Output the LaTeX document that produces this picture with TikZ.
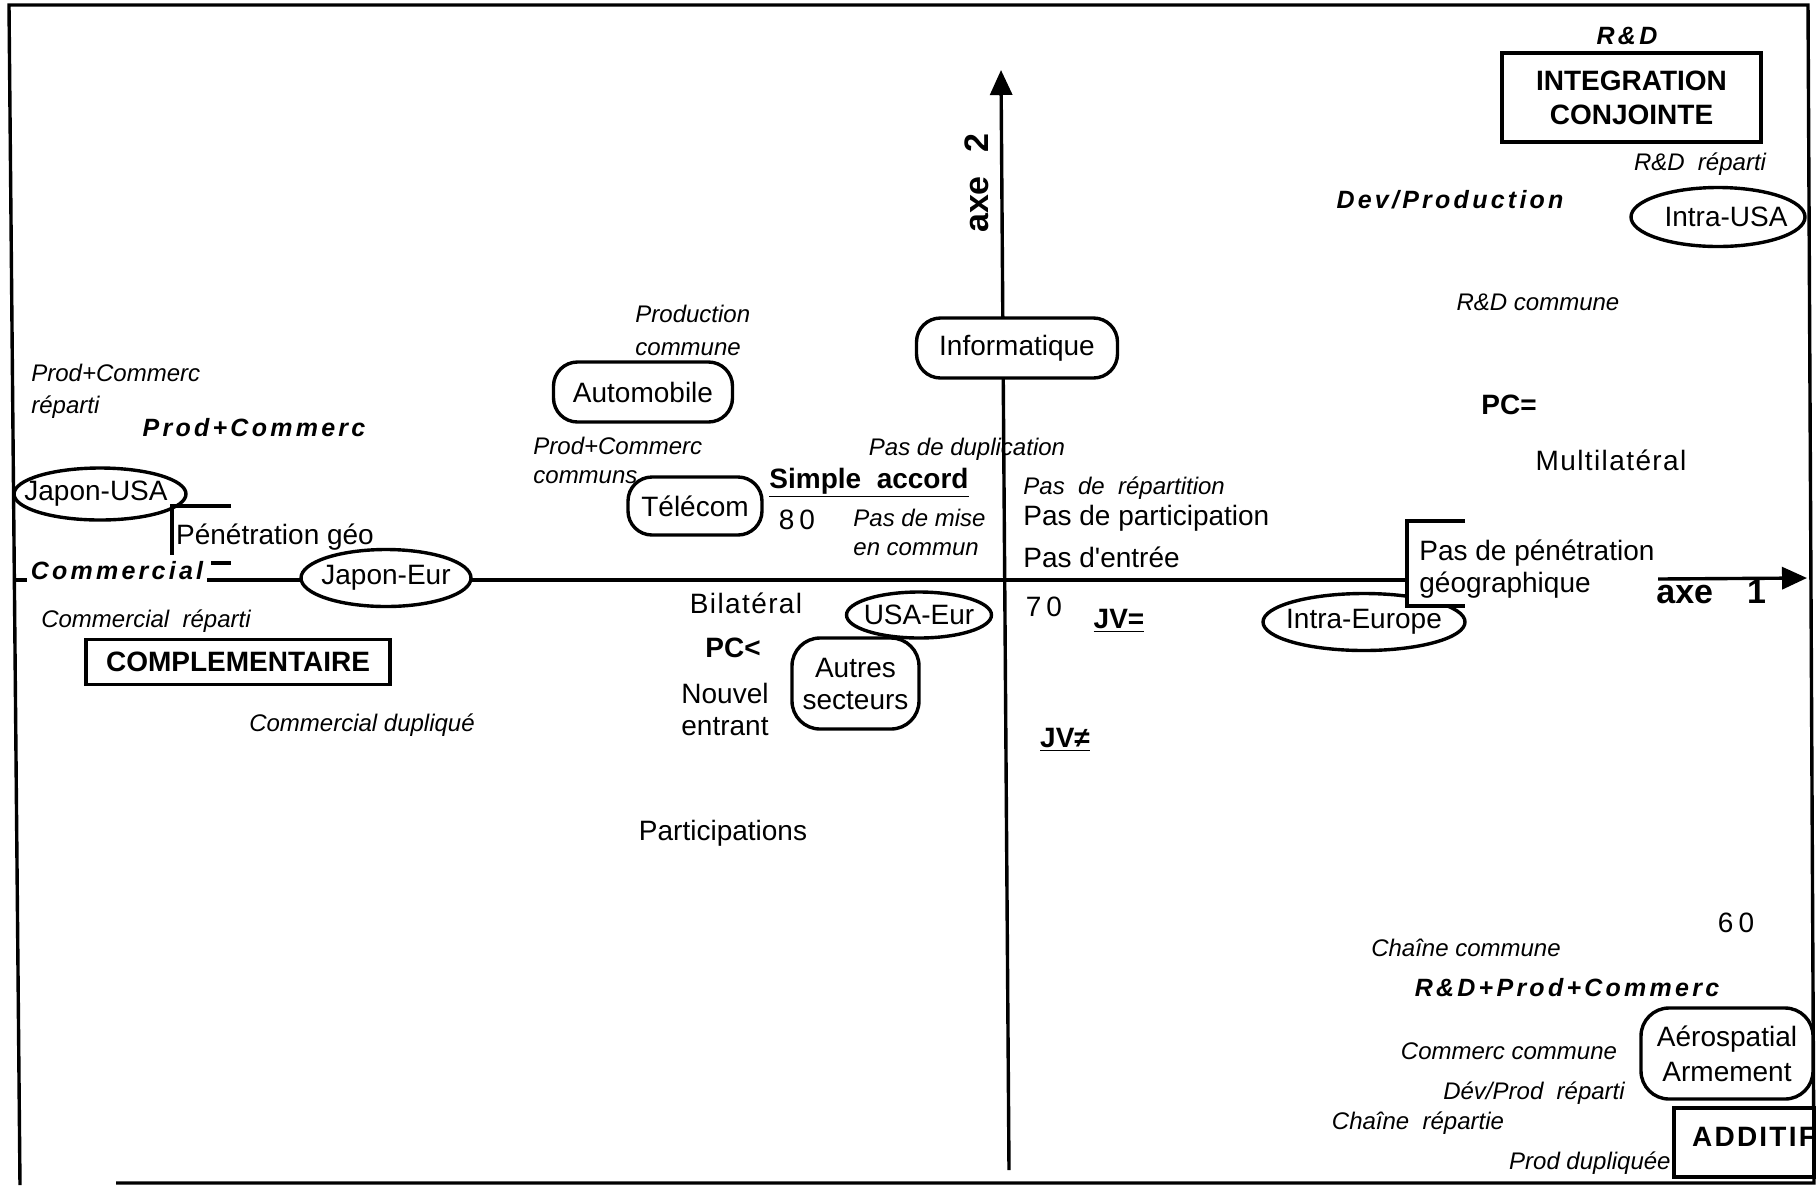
\documentclass[tikz,border=0pt]{standalone}
\usepackage{fontspec}
\setmainfont{Liberation Sans}
\newfontfamily\bisp[LetterSpace=13]{Liberation Sans}
\newfontfamily\spfont[LetterSpace=5]{Liberation Sans}
\newfontfamily\adsp[LetterSpace=8]{Liberation Sans}
\usetikzlibrary{shapes.geometric,arrows.meta}
\tikzset{
  ln/.style={line width=1.7pt},
  reg/.style={inner sep=1pt, font=\fontsize{14}{16}\selectfont},
  itl/.style={inner sep=1pt, font=\fontsize{12}{15}\selectfont\itshape},
  bdt/.style={inner sep=1pt, font=\fontsize{14}{16}\selectfont\bfseries},
  bit/.style={inner sep=1pt, font=\fontsize{12.5}{15}\selectfont\bisp\bfseries\itshape},
  rbox/.style={draw, line width=1.7pt, rounded corners=12pt, fill=white, inner sep=0pt, align=center, font=\fontsize{14}{16}\selectfont},
  ell/.style={draw, ellipse, line width=1.7pt, fill=white, inner sep=0pt, font=\fontsize{14}{16}\selectfont},
  sqbox/.style={draw, line width=1.7pt, fill=white, inner sep=0pt, align=center, font=\fontsize{14}{17}\selectfont\bfseries},
  axl/.style={inner sep=0pt, font=\fontsize{17}{17}\selectfont\bfseries},
  axarrow/.style={-{Triangle[length=12.5pt,width=11pt]}}
}
\begin{document}
\begin{tikzpicture}[x=0.5pt,y=-0.5pt]
\useasboundingbox (0,0) rectangle (1820,1185);
% frame
\coordinate (TL) at (9,5);
\coordinate (TR) at (1808,5);
\coordinate (BR) at (1814,1183);
\coordinate (BS) at (116,1183);
\coordinate (BL) at (20,1185);
\draw[ln] (BS) -- (BR) -- (TR) -- (TL) -- (BL);
% axes
\coordinate (A2b) at (1009,1170);
\coordinate (A2t) at (1001,70);
\draw[ln,axarrow] (A2b) -- (A2t);
\coordinate (A1l) at (16,580);
\coordinate (A1m) at (1407,580);
\coordinate (A1r) at (1658,579);
\coordinate (A1t) at (1807,578);
\draw[ln] (A1l) -- (A1m);
\draw[ln,axarrow] (A1r) -- (A1t);
\node[axl, rotate=90] (axe2) at (977,183) {axe\hspace{12pt}2};
\node[axl, anchor=west] (axe1) at (1656,592) {axe\hspace{17pt}1};

% top right
\node[bit] (rd) at (1627,36) {R\&D};
\node[sqbox, minimum width=129.5pt, minimum height=44.5pt] (integ) at (1631.5,97.5) {INTEGRATION\\CONJOINTE};
\node[itl] (rdrep) at (1700,164) {R\&D\ \ réparti};
\node[bit] (devprod) at (1450,200) {Dev/Production};
\node[ell, minimum width=87pt, minimum height=29.5pt] (iusa) at (1718,217) {\makebox[0pt]{\hspace{8pt}Intra-USA}};
\node[itl] (rdcom) at (1538,302) {R\&D commune};
\node[bdt] (pceq) at (1509,405) {PC=};
\node[reg] (multi) at (1611,460) {\spfont Multilatéral};

% bracket right
\node[ell, minimum width=101pt, minimum height=28.5pt] (ieur) at (1364,622) {\makebox[0pt]{Intra-Europe}};
\coordinate (Bt) at (1465,521);
\coordinate (Btl) at (1407,521);
\coordinate (Bbl) at (1407,606);
\coordinate (Bb) at (1465,606);
\fill[white] (Btl) rectangle (Bb);
\draw[ln] (Bt) -- (Btl) -- (Bbl) -- (Bb);
\node[reg, anchor=west, align=left, font=\fontsize{14}{16}\selectfont] (pasgeo) at (1417,569) {Pas de pénétration\\géographique};

% centre
\node[rbox, minimum width=100.5pt, minimum height=30pt] (info) at (1017,348) {Informatique};
\node[itl] (pasdup) at (967,449) {Pas de duplication};
\node[itl, anchor=west] (pasrep) at (1021,488) {Pas\ \ de\ \ répartition};
\node[reg, anchor=west] (paspart) at (1021,518) {Pas de participation};
\node[reg, anchor=west] (pasent) at (1021,557) {Pas d\textquotesingle{}entrée};
\node[reg] (n70) at (1044,607) {7\hspace{2.5pt}0};
\node[bdt] (jveq) at (1119,621) {\underline{JV=}};
\node[bdt] (jvne) at (1065,740) {\underline{JV≠}};

% upper left-middle
\node[itl, anchor=west, align=left, font=\fontsize{12}{16.5}\selectfont\itshape] (prodcom) at (633,330) {Production\\commune};
\node[rbox, minimum width=89.5pt, minimum height=30pt] (auto) at (643,392) {Automobile};
\node[itl, anchor=west, align=left, font=\fontsize{12}{14.5}\selectfont\itshape] (pcc) at (531,460) {Prod+Commerc\\communs};
\node[rbox, minimum width=67pt, minimum height=29pt] (tele) at (695,506) {Télécom};
\node[bdt] (simple) at (869,483) {\underline{Simple\ \ accord}};
\node[reg] (n80) at (797,520) {8\hspace{2.5pt}0};
\node[itl, anchor=west, align=left, font=\fontsize{12}{14.5}\selectfont\itshape] (pasmise) at (851,532) {Pas de mise\\en commun};

% left
\node[itl, anchor=west, align=left, font=\fontsize{12}{16}\selectfont\itshape] (pcr) at (29,391) {Prod+Commerc\\réparti};
\node[bit] (pcbold) at (254,428) {Prod+Commerc};
\node[ell, minimum width=86pt, minimum height=26pt] (jusa) at (100,494) {\makebox[0pt]{\hspace{-4pt}Japon-USA}};
\coordinate (Gr) at (231,506);
\coordinate (Gc) at (172,506);
\coordinate (Gb) at (172,555);
\draw[ln] (Gr) -- (Gc) -- (Gb);
\node[reg] (penet) at (275,537) {Pénétration géo};
\node[bit, fill=white, inner sep=2pt] (comm) at (117,571) {Commercial};
\coordinate (Ea) at (211,563);
\coordinate (Eb) at (231,563);
\draw[ln] (Ea) -- (Eb);
\node[ell, minimum width=85pt, minimum height=28.5pt] (jeur) at (386,578) {\makebox[0pt]{Japon-Eur}};
\node[itl] (commrep) at (146,621) {Commercial\ \ réparti};
\node[sqbox, minimum width=152pt, minimum height=22.5pt] (compl) at (238,662) {COMPLEMENTAIRE};
\node[itl] (commdup) at (362,725) {Commercial dupliqué};

% lower middle-left
\node[reg] (bilat) at (746,603) {\spfont Bilatéral};
\node[rbox, rounded corners=14pt, minimum width=63.5pt, minimum height=45.5pt, font=\fontsize{14}{16}\selectfont] (autres) at (855.5,683.5) {Autres\\secteurs};
\node[ell, minimum width=72.5pt, minimum height=23pt] (useur) at (919,615) {\makebox[0pt]{USA-Eur}};
\node[bdt] (pclt) at (733,648) {PC<};
\node[reg, anchor=west, align=left, font=\fontsize{14}{16}\selectfont] (nouvel) at (679,709) {Nouvel\\entrant};
\node[reg] (particip) at (723,833) {Participations};

% lower right
\node[reg] (n60) at (1736,923) {6\hspace{2.5pt}0};
\node[itl] (chcom) at (1466,948) {Chaîne commune};
\node[bit] (rdpc) at (1567,988) {R\&D+Prod+Commerc};
\node[itl] (commcom) at (1509,1051) {Commerc commune};
\node[rbox, rounded corners=14pt, minimum width=86pt, minimum height=45.5pt, font=\fontsize{14}{17.5}\selectfont] (aero) at (1727,1053.5) {Aérospatial\\Armement};
\node[itl] (devrep) at (1534,1093) {Dév/Prod\ \ réparti};
\node[itl] (chrep) at (1418,1123) {Chaîne\ \ répartie};
\node[sqbox, minimum width=70pt, minimum height=34.5pt] (addbox) at (1744,1142.5) {};
\node[bdt] (additif) at (1754,1137) {\adsp ADDITIF};
\node[itl, anchor=east] (proddup) at (1673,1163) {Prod dupliquée};
\end{tikzpicture}
\end{document}
